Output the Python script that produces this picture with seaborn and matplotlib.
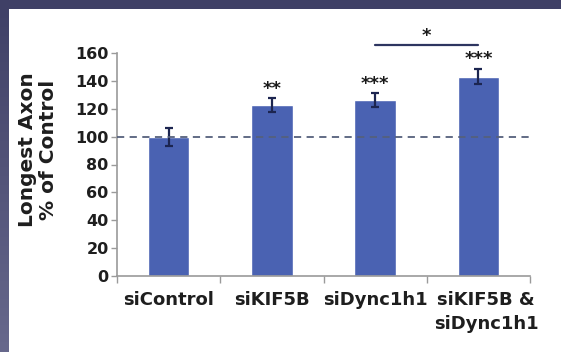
import numpy as np
import pandas as pd
import matplotlib
matplotlib.use("Agg")
import matplotlib.pyplot as plt
from matplotlib.patches import Rectangle
import seaborn as sns

# Longest axon length, normalised to the siControl mean
conditions = ["siControl", "siKIF5B", "siDync1h1", "siKIF5B &\nsiDync1h1"]
percent_of_control = [99.5, 122.5, 126.0, 143.0]
sem = [6.5, 5.0, 5.0, 5.5]
stars = ["", "**", "***", "***"]
yticks = [0, 20, 40, 60, 80, 100, 120, 140, 160]
pair_label = "*"

sns.set_theme(style="white")
plt.rcParams["font.family"] = ["DejaVu Sans"]
plt.rcParams["font.weight"] = "bold"

W, H = 561, 352
fig = plt.figure(figsize=(W / 100, H / 100), dpi=100)

# slide background with a soft vertical shade, white panel on top
bg = fig.add_axes([0, 0, 1, 1], zorder=-10)
grad = np.linspace(0, 1, 256).reshape(-1, 1)
cmap = matplotlib.colors.LinearSegmentedColormap.from_list("slide", ["#3f4066", "#67688c"])
bg.imshow(grad, aspect="auto", cmap=cmap, extent=[0, 1, 0, 1], origin="upper")
bg.set_axis_off()
bg.add_patch(Rectangle((9 / W, 0), 1, 1 - 9 / H, transform=bg.transAxes,
                       facecolor="white", edgecolor="none"))

left, right, y0, y160 = 117, 530, 276, 53
ax = fig.add_axes([left / W, 1 - y0 / H, (right - left) / W, (y0 - y160) / H])
ax.set_facecolor("none")

df = pd.DataFrame({"condition": conditions, "value": percent_of_control})
sns.barplot(data=df, x="condition", y="value", color="#4a62b2", saturation=1,
            width=0.4, errorbar=None, ax=ax, zorder=2)
x = np.arange(len(conditions))
ax.errorbar(x, percent_of_control, yerr=sem, fmt="none", ecolor="#1c2550",
            elinewidth=1.6, capsize=3, capthick=1.6, zorder=3)

ax.axhline(100, color="#55607c", lw=1.3, ls=(0, (4, 3)), zorder=4,
           xmin=0, xmax=1.01, clip_on=False)

for xi, v, e, s in zip(x, percent_of_control, sem, stars):
    if s:
        ax.text(xi, v + e + 0.5, s, ha="center", va="bottom", fontsize=13,
                fontweight="bold", color="#1a1a1a")

# comparison bar between the two rightmost conditions
ax.plot([2, 3], [166, 166], color="#2d3560", lw=1.6, clip_on=False)
ax.text(2.5, 166, pair_label, ha="center", va="bottom", fontsize=13,
        fontweight="bold", color="#1a1a1a", clip_on=False)

ax.set_xlim(-0.5, 3.5)
ax.set_ylim(0, 160)
ax.set_yticks(yticks)
ax.set_yticklabels([str(t) for t in yticks], fontsize=11.5, fontweight="bold",
                   color="#1e1e1e")
# label anchors: the two-line label sits a little right of its bar
label_pos = [0, 1, 2, 3.075]
ax.set_xticks(label_pos)
ax.set_xticklabels(conditions, fontsize=13, fontweight="bold", color="#1e1e1e",
                   linespacing=1.4)
ax.set_xlabel("")
ax.set_ylabel("Longest Axon\n% of Control", fontsize=14.5, fontweight="bold",
              color="#1e1e1e", linespacing=1.15)
ax.yaxis.set_label_coords(-0.143, 0.565)

for side in ["top", "right"]:
    ax.spines[side].set_visible(False)
for side in ["left", "bottom"]:
    ax.spines[side].set_color("#9a9a9a")
    ax.spines[side].set_linewidth(1.2)

ax.tick_params(axis="y", left=True, length=4, width=1, color="#9a9a9a", pad=2)
ax.tick_params(axis="x", bottom=False, pad=5)
# category boundary ticks on the category axis
ax.set_xticks([-0.5, 0.5, 1.5, 2.5, 3.5], minor=True)
ax.tick_params(axis="x", which="minor", bottom=True, length=5, width=1,
               color="#9a9a9a")

fig.savefig("out.png", dpi=100)
